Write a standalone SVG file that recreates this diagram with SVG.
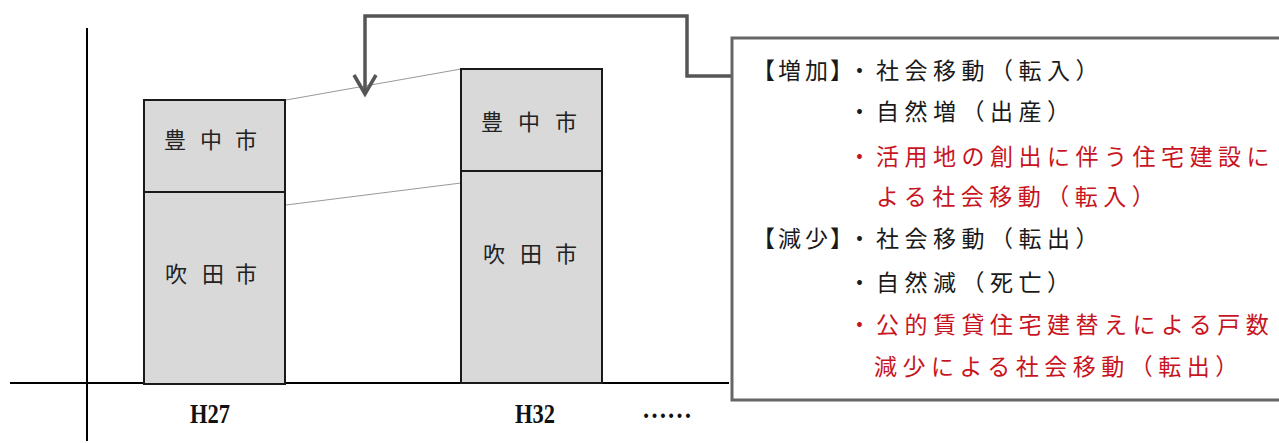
<svg xmlns="http://www.w3.org/2000/svg" width="1279" height="443" viewBox="0 0 1279 443">
<defs>
<style>
.axis{stroke:#000;stroke-width:2;fill:none}
.bar{fill:#d9d9d9;stroke:#1a1a1a;stroke-width:2}
.thin{stroke:#999;stroke-width:1;fill:none}
.conn{stroke:#555;stroke-width:3.5;fill:none}
.lbl{font-family:"Noto Sans CJK JP","Noto Sans",sans-serif;font-size:22px;fill:#222}
.yr{font-family:"Liberation Serif","DejaVu Serif",serif;font-size:28px;font-weight:bold;fill:#111}
.bx{font-family:"Noto Sans CJK JP","Noto Sans",sans-serif;font-size:23px;fill:#1a1a1a;letter-spacing:5.5px}
.red{fill:#c8141e}
</style>
</defs>
<rect width="1279" height="443" fill="#fff"/>
<g id="axes">
<line class="axis" x1="87" y1="28" x2="87" y2="441"/>
<line class="axis" x1="10" y1="383" x2="729" y2="383"/>
</g>
<g id="connectors">
<line class="thin" x1="286" y1="100" x2="461" y2="69"/>
<line class="thin" x1="286" y1="205" x2="461" y2="183"/>
<path class="conn" d="M734,76 H687 V16 H365 V92"/>
<path class="conn" d="M354,75 L365,94 L376,75"/>
</g>
<g id="bar-h27">
<rect class="bar" x="144" y="100" width="141" height="92"/>
<rect class="bar" x="144" y="192" width="141" height="192"/>
<text class="lbl" x="164 188 200 224 235" y="148">豊 中 市</text>
<text class="lbl" x="165 189 202 225 235" y="282">吹 田 市</text>
<text class="yr" x="190" y="423" textLength="40" lengthAdjust="spacingAndGlyphs">H27</text>
</g>
<g id="bar-h32">
<rect class="bar" x="461" y="69" width="141" height="102"/>
<rect class="bar" x="461" y="171" width="141" height="212"/>
<text class="lbl" x="481 505 518 542 555" y="130">豊 中 市</text>
<text class="lbl" x="483 507 520 544 555" y="262">吹 田 市</text>
<text class="yr" x="515" y="423" textLength="40" lengthAdjust="spacingAndGlyphs">H32</text>
</g>
<g id="ellipsis">
<text class="yr" x="642" y="418" font-size="25" font-weight="normal" textLength="50" lengthAdjust="spacingAndGlyphs">……</text>
</g>
<g id="factors-box">
<rect x="732" y="38" width="560" height="362" fill="#fff" stroke="#666" stroke-width="3"/>
<text class="bx" x="752 778 805 830 848" y="79" style="letter-spacing:0">【増加】・</text>
<text class="bx" x="876" y="79">社会移動（転入）</text>
<text class="bx" x="848" y="120" style="letter-spacing:0">・</text>
<text class="bx" x="876" y="120">自然増（出産）</text>
<text class="bx red" x="848" y="165" style="letter-spacing:0">・</text>
<text class="bx red" x="876" y="165">活用地の創出に伴う住宅建設に</text>
<text class="bx red" x="876" y="205">よる社会移動（転入）</text>
<text class="bx" x="752 778 805 830 848" y="247" style="letter-spacing:0">【減少】・</text>
<text class="bx" x="876" y="247">社会移動（転出）</text>
<text class="bx" x="848" y="291" style="letter-spacing:0">・</text>
<text class="bx" x="876" y="291">自然減（死亡）</text>
<text class="bx red" x="848" y="333" style="letter-spacing:0">・</text>
<text class="bx red" x="876" y="333">公的賃貸住宅建替えによる戸数</text>
<text class="bx red" x="874" y="375">減少による社会移動（転出）</text>
</g>
</svg>
